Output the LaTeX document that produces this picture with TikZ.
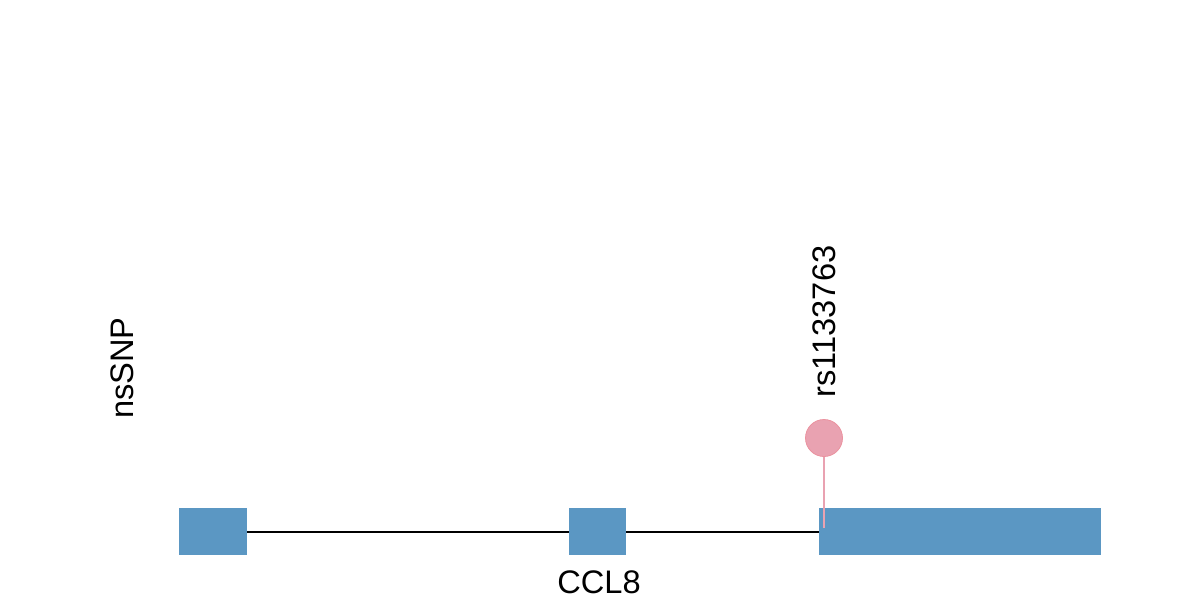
\documentclass[tikz,border=0pt]{standalone}
\usepackage{fontspec}
\setmainfont{Liberation Sans}
\definecolor{exonblue}{HTML}{5B97C3}
\definecolor{snppink}{HTML}{E9A2B1}
\tikzset{
  exon/.style={fill=exonblue,draw=none,inner sep=0pt,minimum height=23.5pt},
  intron/.style={black,line width=1pt},
  stem/.style={snppink,line width=0.8pt},
  snp/.style={circle,fill=snppink,draw=snppink!90!red,line width=0.4pt,
    inner sep=0pt,minimum size=18.5pt},
  lbl/.style={font=\fontsize{16.3}{18}\selectfont,inner sep=0pt}
}
\begin{document}
\begin{tikzpicture}[x=0.5pt,y=-0.5pt]
  \useasboundingbox (0,0) rectangle (1200,600);
  % exons
  \node[exon,minimum width=34pt] (ex1) at (213,531.5) {};
  \node[exon,minimum width=28.5pt] (ex2) at (597.5,531.5) {};
  \node[exon,minimum width=141pt] (ex3) at (960,531.5) {};
  \draw[intron] (ex1.east) -- (ex2.west);
  \draw[intron] (ex2.east) -- (ex3.west);
  % nsSNP lollipop
  \coordinate (snptop) at (824,419);
  \coordinate (snpfoot) at (824,528);
  \draw[stem] (snptop) -- (snpfoot);
  \node[snp] (snp) at (824,438) {};
  \node[lbl,rotate=90] (snpname) at (824,321.5) {rs1133763};
  \node[lbl,rotate=90] (track) at (122,368) {nsSNP};
  \node[lbl] (gene) at (599,582.5) {CCL8};
\end{tikzpicture}
\end{document}
